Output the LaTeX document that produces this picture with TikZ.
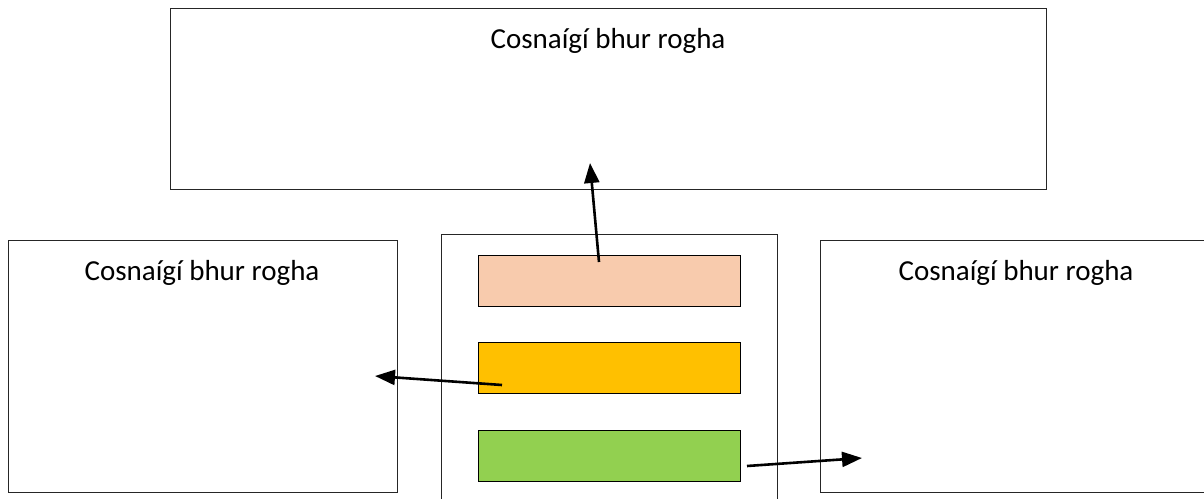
\documentclass[tikz,border=0pt]{standalone}
\usepackage{fontspec}
\setmainfont{Carlito}
\usepackage{tikz}
\usetikzlibrary{calc,positioning,arrows.meta}
\definecolor{peach}{HTML}{F8CBAD}
\definecolor{gold}{HTML}{FFC000}
\definecolor{leaf}{HTML}{92D050}
\newcommand\choice{Cosna\'ig\'i bhur rogha}

\begin{document}
\begin{tikzpicture}[x=1pt,y=-1pt,
  frame/.style={draw=black!85,line width=1.2pt,fill=white,inner sep=0pt},
  bar/.style={draw=black,line width=1pt,inner sep=0pt,minimum width=262pt,minimum height=51pt},
  caption/.style={font=\fontsize{29}{34}\selectfont,inner sep=0pt,anchor=base},
  pick/.style={-{Triangle[length=20pt,width=15pt]},line width=2.6pt}]
\useasboundingbox (0,0) rectangle (1204,498);
\clip (0,0) rectangle (1204,498);
% boxes
\node[frame,anchor=north west,minimum width=876pt,minimum height=181pt] (top) at (170,8) {};
\node[frame,anchor=north west,minimum width=389pt,minimum height=252pt] (left) at (8,240) {};
\node[frame,anchor=north west,minimum width=400pt,minimum height=252pt] (right) at (820,240) {};
\node[frame,anchor=north west,minimum width=336pt,minimum height=280pt] (mid) at (441,234) {};
\foreach\n/\c/\y in {one/peach/255,two/gold/342,three/leaf/430}
 \node[bar,fill=\c,anchor=north west] (\n) at (478,\y) {};
% captions
\node[caption] (toptext) at (608,48) {\choice};
\node[caption] (lefttext) at (202,280) {\choice};
\node[caption] (righttext) at (1016,280) {\choice};
% arrows
\coordinate (a1) at (599,262);
\coordinate (b1) at (590,163);
\coordinate (a2) at (502,385);
\coordinate (b2) at (375,376);
\coordinate (a3) at (747,466);
\coordinate (b3) at (862,458);
\draw[pick] (a1) -- (b1);
\draw[pick] (a2) -- (b2);
\draw[pick] (a3) -- (b3);
\end{tikzpicture}
\end{document}
